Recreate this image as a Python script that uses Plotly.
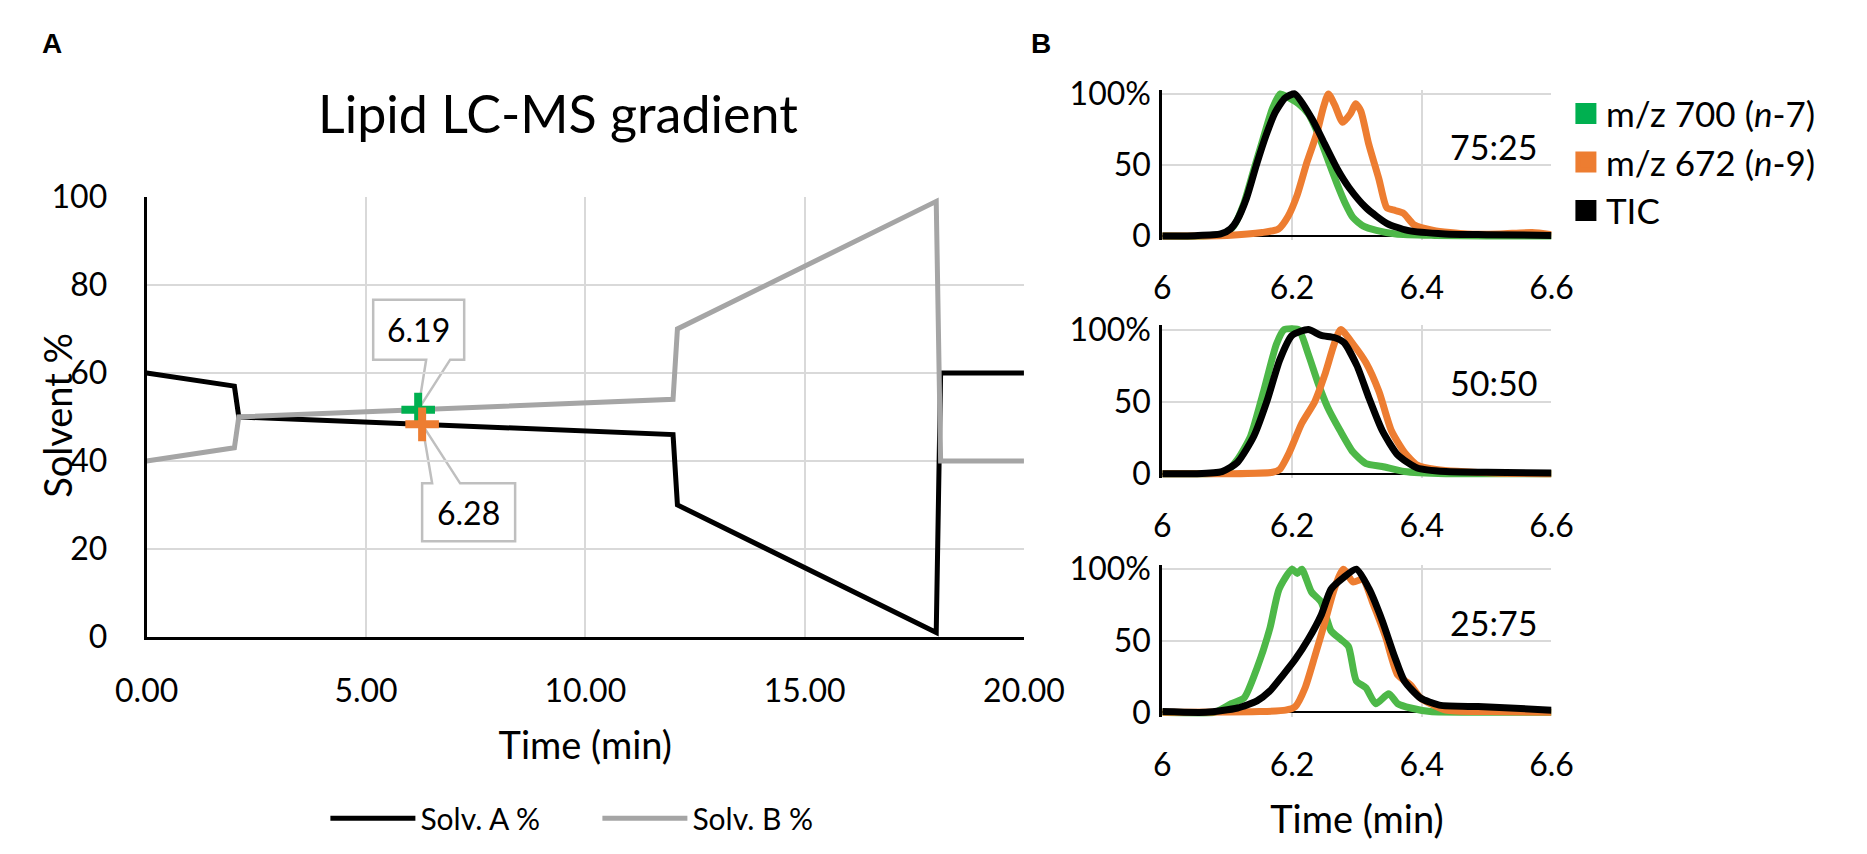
import numpy as np
import plotly.graph_objects as go

W, H = 1867, 854

# ---------------- Panel A data: gradient ----------------
grad_time = [0.0, 2.0, 2.1, 12.0, 12.1, 18.0, 18.1, 20.0]
solv_a = [60, 57, 50, 46, 30, 1, 60, 60]
solv_b = [40, 43, 50, 54, 70, 99, 40, 40]
rt_700 = 6.19
rt_672 = 6.28
rt_labels = ["6.19", "6.28"]

# ---------------- Panel B data: extracted ion chromatograms ----------------
ratio_labels = ["75:25", "50:50", "25:75"]

# 75:25
t700_1 = [6.00, 6.06, 6.095, 6.11, 6.125, 6.14, 6.155, 6.17, 6.182, 6.192, 6.21, 6.225, 6.24, 6.255, 6.27, 6.282, 6.294, 6.31, 6.33, 6.36, 6.42, 6.50, 6.60]
i700_1 = [0, 0, 1.5, 7, 22, 45, 68, 90, 100, 98, 93, 86, 72, 54, 36, 23, 13, 7, 4, 1.5, 0.5, 0, 0]
t672_1 = [6.00, 6.10, 6.154, 6.179, 6.194, 6.208, 6.223, 6.238, 6.248, 6.256, 6.266, 6.278, 6.29, 6.298, 6.306, 6.318, 6.334, 6.346, 6.359, 6.372, 6.388, 6.418, 6.47, 6.52, 6.57, 6.60]
i672_1 = [0, 0.5, 2.5, 5, 14, 29, 52, 72, 90, 100, 92, 80, 86, 93, 88, 65, 40, 20, 18, 16, 8, 4, 1.5, 1.5, 2.5, 1]
ttic_1 = [6.00, 6.05, 6.09, 6.105, 6.115, 6.13, 6.145, 6.16, 6.174, 6.189, 6.204, 6.23, 6.25, 6.27, 6.288, 6.314, 6.346, 6.378, 6.436, 6.50, 6.60]
itic_1 = [0, 0.3, 1.5, 5, 11, 27, 50, 71, 87, 97, 100, 83, 65, 47, 34, 20, 9, 4, 1.5, 1, 0.5]

# 50:50
t700_2 = [6.00, 6.06, 6.097, 6.116, 6.136, 6.156, 6.176, 6.188, 6.21, 6.225, 6.24, 6.255, 6.274, 6.294, 6.314, 6.339, 6.373, 6.437, 6.50, 6.60]
i700_2 = [0, 0, 1, 10, 26, 57, 90, 100, 100, 83, 63, 46, 30, 15, 7, 5, 1.5, 0, 0, 0]
t672_2 = [6.00, 6.10, 6.17, 6.181, 6.196, 6.215, 6.235, 6.25, 6.265, 6.275, 6.294, 6.314, 6.334, 6.353, 6.373, 6.393, 6.422, 6.51, 6.60]
i672_2 = [0, 0, 1, 3, 15, 35, 50, 68, 90, 100, 90, 77, 57, 30, 15, 6, 3, 0.5, 0]
ttic_2 = [6.00, 6.05, 6.092, 6.116, 6.141, 6.161, 6.181, 6.20, 6.225, 6.245, 6.265, 6.28, 6.30, 6.319, 6.339, 6.363, 6.393, 6.437, 6.50, 6.60]
itic_2 = [0, 0, 1.5, 8, 26, 50, 79, 96, 100, 96, 94.5, 91, 75, 52, 30, 13, 4, 1.5, 1, 0.5]

# 25:75
t700_3 = [6.00, 6.08, 6.106, 6.126, 6.146, 6.166, 6.18, 6.20, 6.208, 6.215, 6.23, 6.245, 6.26, 6.275, 6.287, 6.299, 6.314, 6.329, 6.349, 6.363, 6.383, 6.413, 6.487, 6.60]
i700_3 = [0, 0, 6, 10, 31, 59, 86, 100, 97, 100, 84, 77, 57, 51, 46, 22, 17, 6, 13, 6, 3, 0.5, 0, 0]
t672_3 = [6.00, 6.15, 6.19, 6.205, 6.22, 6.235, 6.25, 6.265, 6.279, 6.294, 6.309, 6.324, 6.344, 6.363, 6.383, 6.398, 6.437, 6.50, 6.60]
i672_3 = [0, 0.5, 1.5, 4, 17, 39, 62, 86, 100, 91, 93, 77, 53, 26, 19, 10, 1.5, 0.5, 0]
ttic_3 = [6.00, 6.067, 6.116, 6.146, 6.166, 6.186, 6.205, 6.225, 6.245, 6.26, 6.279, 6.299, 6.319, 6.339, 6.358, 6.373, 6.398, 6.427, 6.487, 6.536, 6.60]
itic_3 = [0.5, 0, 3, 8, 15, 26, 37, 51, 68, 86, 94, 100, 86, 64, 39, 22, 10, 5, 4, 3, 1.5]

b_time_ticks = [6, 6.2, 6.4, 6.6]
b_time_text = ["6", "6.2", "6.4", "6.6"]
b_int_ticks = [0, 50, 100]
b_int_text = ["0", "50", "100%"]
b_names = ["m/z 700 (<i>n</i>-7)", "m/z 672 (<i>n</i>-9)", "TIC"]

# ---------------- styles ----------------
FONT = "Lato"
BLACK = "#000000"
GRAY = "#A5A5A5"
GRID = "#D9D9D9"
GREEN = "#00B050"
GREEN_LINE = "#4DB848"
ORANGE = "#ED7D31"
CALLOUT = "#BFBFBF"


def xdom(l, r):
    return [l / W, r / W]


def ydom(top, bottom):
    return [1 - bottom / H, 1 - top / H]


fig = go.Figure()

# Panel A lines
fig.add_trace(go.Scatter(x=grad_time, y=solv_a, mode="lines", name="Solv. A %",
                         line=dict(color=BLACK, width=5), xaxis="x", yaxis="y", legend="legend"))
fig.add_trace(go.Scatter(x=grad_time, y=solv_b, mode="lines", name="Solv. B %",
                         line=dict(color=GRAY, width=5), xaxis="x", yaxis="y", legend="legend"))

y700 = float(np.interp(rt_700, grad_time, solv_b))
y672 = float(np.interp(rt_672, grad_time, solv_a))

fig.add_trace(go.Scatter(x=[rt_700], y=[y700], mode="markers", showlegend=False,
                         marker=dict(symbol="cross-thin", size=24, line=dict(color=GREEN, width=8)),
                         xaxis="x", yaxis="y"))
fig.add_trace(go.Scatter(x=[rt_672], y=[y672], mode="markers", showlegend=False,
                         marker=dict(symbol="cross-thin", size=24, line=dict(color=ORANGE, width=8)),
                         xaxis="x", yaxis="y"))

# Panel B chromatograms
panels = [
    (t700_1, i700_1, t672_1, i672_1, ttic_1, itic_1),
    (t700_2, i700_2, t672_2, i672_2, ttic_2, itic_2),
    (t700_3, i700_3, t672_3, i672_3, ttic_3, itic_3),
]
for k, (ta, ia, tb, ib, tc, ic) in enumerate(panels):
    xa = "x%d" % (k + 2)
    ya = "y%d" % (k + 2)
    fig.add_trace(go.Scatter(x=ta, y=ia, mode="lines", showlegend=False,
                             line=dict(color=GREEN_LINE, width=7, shape="spline", smoothing=0.6),
                             xaxis=xa, yaxis=ya))
    fig.add_trace(go.Scatter(x=tb, y=ib, mode="lines", showlegend=False,
                             line=dict(color=ORANGE, width=7, shape="spline", smoothing=0.6),
                             xaxis=xa, yaxis=ya))
    fig.add_trace(go.Scatter(x=tc, y=ic, mode="lines", showlegend=False,
                             line=dict(color=BLACK, width=7, shape="spline", smoothing=0.6),
                             xaxis=xa, yaxis=ya))

# Legend entries for panel B (square swatches)
for name, col in zip(b_names, [GREEN, ORANGE, BLACK]):
    fig.add_trace(go.Scatter(x=[None], y=[None], mode="markers", name=name,
                             marker=dict(symbol="square", size=16, color=col, line=dict(color=col, width=5)),
                             xaxis="x2", yaxis="y2", legend="legend2"))

axis_font = dict(family=FONT, size=32, color=BLACK)

layout = dict(
    width=W, height=H, autosize=False,
    margin=dict(l=0, r=0, t=0, b=0),
    paper_bgcolor="white", plot_bgcolor="white",
    font=dict(family=FONT, color=BLACK),
    xaxis=dict(domain=xdom(111, 1024), anchor="y", range=[0, 20], tick0=0, dtick=5,
               tickformat=".2f", showgrid=True, gridcolor=GRID, gridwidth=2,
               showline=True, linecolor=BLACK, linewidth=3, zeroline=False, ticks="",
               tickfont=axis_font, ticklabelstandoff=24,
               title=dict(text="Time (min)", font=dict(family=FONT, size=38), standoff=25)),
    yaxis=dict(domain=ydom(176, 637), anchor="x", range=[0, 100], tick0=0, dtick=20,
               showgrid=True, gridcolor=GRID, gridwidth=2, showline=True, linecolor=BLACK,
               linewidth=3, zeroline=False, ticks="", tickfont=axis_font, ticklabelstandoff=30),
    legend=dict(orientation="h", x=297 / W, xanchor="left", y=1 - 827 / H, yanchor="middle",
                font=dict(family=FONT, size=30), itemwidth=85, entrywidth=172,
                entrywidthmode="pixels", bgcolor="rgba(0,0,0,0)", traceorder="normal"),
    legend2=dict(x=1588 / W, xanchor="left", y=1 - 58 / H, yanchor="top",
                 font=dict(family=FONT, size=35), bgcolor="rgba(0,0,0,0)", itemsizing="trace",
                 traceorder="normal"),
)

b_rows = [(68, 217), (315, 466), (566, 716)]
pad = 3
for k, (top, bot) in enumerate(b_rows):
    ppu = (bot - top) / 100.0
    xa = dict(domain=xdom(1168, 1573), anchor="y%d" % (k + 2), range=[6, 6.6],
              tickvals=b_time_ticks, ticktext=b_time_text, showgrid=True, gridcolor=GRID,
              gridwidth=2, showline=False, zeroline=False, ticks="", tickfont=axis_font,
              ticklabelstandoff=26)
    if k == 2:
        xa["title"] = dict(text="Time (min)", font=dict(family=FONT, size=38), standoff=24)
    ya = dict(domain=ydom(top - pad * ppu, bot + pad * ppu), anchor="x%d" % (k + 2),
              range=[-pad, 100 + pad], tickvals=b_int_ticks, ticktext=b_int_text,
              showgrid=True, gridcolor=GRID, gridwidth=2, zeroline=True, zerolinecolor=BLACK,
              zerolinewidth=2, showline=True, linecolor=BLACK, linewidth=3, ticks="",
              tickfont=axis_font, ticklabelstandoff=2)
    layout["xaxis%d" % (k + 2)] = xa
    layout["yaxis%d" % (k + 2)] = ya

fig.update_layout(**layout)

annotations = [
    dict(text="Lipid LC-MS gradient", x=539 / W, y=1 - 88 / H, xref="paper", yref="paper",
         xanchor="center", yanchor="middle", showarrow=False,
         font=dict(family=FONT, size=52, color=BLACK)),
    dict(text="Solvent %", x=17 / W, y=1 - 405 / H, xref="paper", yref="paper", textangle=-90,
         xanchor="center", yanchor="middle", showarrow=False,
         font=dict(family=FONT, size=38, color=BLACK)),
    dict(text="<b>A</b>", x=12 / W, y=1 - 15 / H, xref="paper", yref="paper", showarrow=False,
         xanchor="center", yanchor="middle",
         font=dict(family="Liberation Sans", size=28, color=BLACK)),
    dict(text="<b>B</b>", x=1042 / W, y=1 - 15 / H, xref="paper", yref="paper", showarrow=False,
         xanchor="center", yanchor="middle",
         font=dict(family="Liberation Sans", size=28, color=BLACK)),
    dict(text=rt_labels[0], x=rt_700, y=y700, xref="x", yref="y", showarrow=False,
         xanchor="center", yanchor="middle", xshift=0, yshift=80,
         font=dict(family=FONT, size=32, color=BLACK)),
    dict(text=rt_labels[1], x=rt_672, y=y672, xref="x", yref="y", showarrow=False,
         xanchor="center", yanchor="middle", xshift=46, yshift=-88,
         font=dict(family=FONT, size=32, color=BLACK)),
]
for k, lab in enumerate(ratio_labels):
    annotations.append(dict(text=lab, x=6.58, y=63, xref="x%d" % (k + 2), yref="y%d" % (k + 2),
                            xanchor="right", yanchor="middle", showarrow=False,
                            font=dict(family=FONT, size=34, color=BLACK)))

shapes = [
    dict(type="path", xref="x", yref="y", xsizemode="pixel", ysizemode="pixel",
         xanchor=rt_700, yanchor=y700,
         path="M0,0 L32,50 L46,50 L46,110 L-45,110 L-45,50 L8,50 Z",
         fillcolor="white", line=dict(color=CALLOUT, width=2.5), layer="below"),
    dict(type="path", xref="x", yref="y", xsizemode="pixel", ysizemode="pixel",
         xanchor=rt_672, yanchor=y672,
         path="M0,0 L10,-59 L0,-59 L0,-117 L93,-117 L93,-59 L38,-59 Z",
         fillcolor="white", line=dict(color=CALLOUT, width=2.5), layer="below"),
]

fig.update_layout(annotations=annotations, shapes=shapes)

fig.write_html("out.html")
